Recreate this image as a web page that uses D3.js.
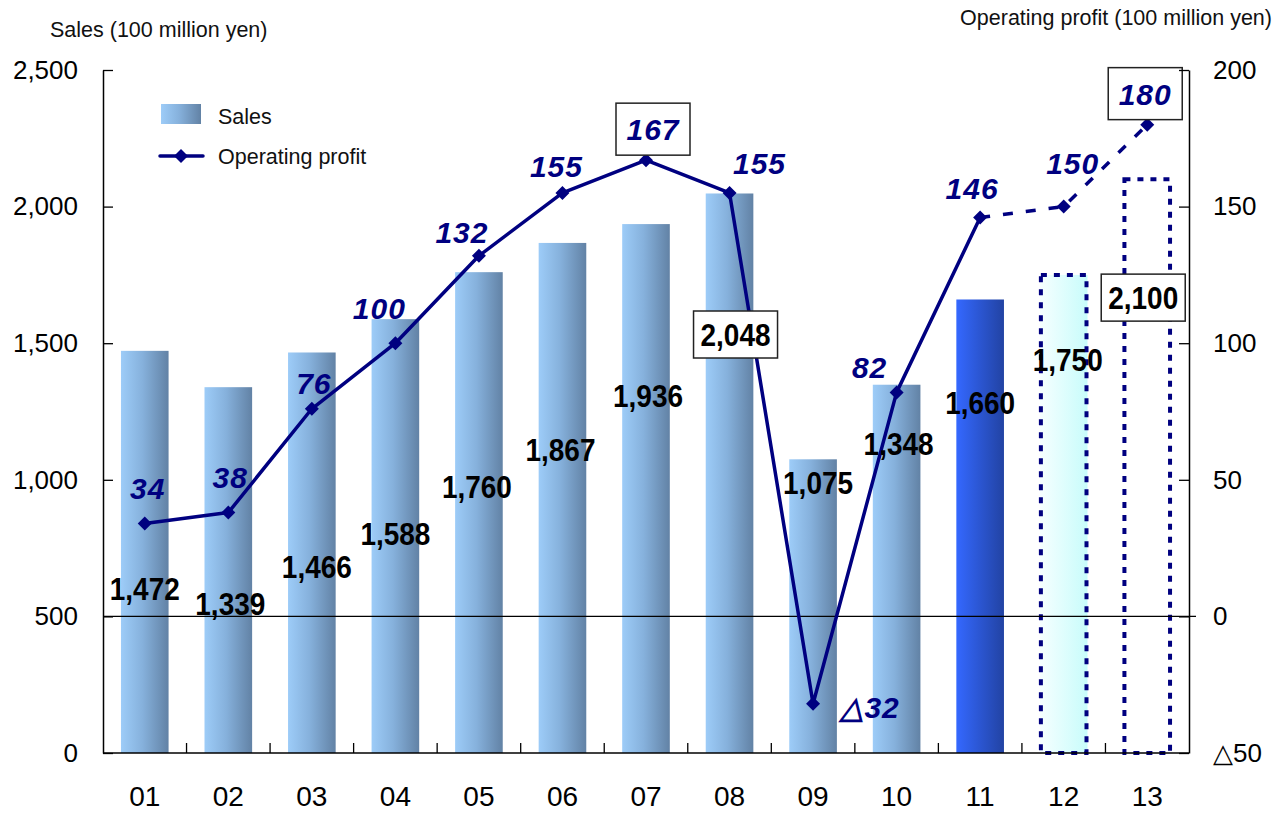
<!DOCTYPE html>
<html>
<head>
<meta charset="utf-8">
<script src="https://cdn.jsdelivr.net/npm/d3@7"></script>
<style>
  html, body { margin: 0; padding: 0; background: #fff; }
  svg { display: block; font-family: "Liberation Sans", Arial, sans-serif; }
</style>
</head>
<body>
<svg id="chart" width="1275" height="813"></svg>
<script>
// ---- data ----
const years = ["01","02","03","04","05","06","07","08","09","10","11","12","13"];
const sales = [1472, 1339, 1466, 1588, 1760, 1867, 1936, 2048, 1075, 1348, 1660, 1750, 2100];
const profit = [34, 38, 76, 100, 132, 155, 167, 155, -32, 82, 146, 150, 180];
const barKind = ["actual","actual","actual","actual","actual","actual","actual","actual","actual","actual","current","forecast","target"];
const salesTicks = [0, 500, 1000, 1500, 2000, 2500];
const profitTicks = [-50, 0, 50, 100, 150, 200];
const solidUntil = 10;            // index of last actual profit point
const boxedSales = [7, 12];       // sales labels drawn inside a frame
const boxedProfit = [6, 12];      // profit labels drawn inside a frame

// label placement (sales label centre in axis units, profit label offsets in px)
const salesLabelLevel = [600, 545, 680, 800, 975, 1110, 1305, 1530, 988, 1131, 1281, 1438, 1665];
const salesLabelDx = [0, 2, 5, 0, -2, -2, 2, 6, 5, 2, 0, 4, -4];
const profitLabelDx = [3, 2, 2, -16, -17, -6, 7, 30, 57, -27, -8, 9, -2];
const profitLabelDy = [-36, -36, -26, -35, -24, -27, -31, -30, 3, -25, -30, -44, -31];

const fmt = d3.format(",");
const fmtProfit = v => v < 0 ? "\u25B3" + Math.abs(v) : String(v);

const svg = d3.select("#chart");
const plotL = 103, plotR = 1189, plotT = 70, plotB = 753;
const navy = "#000080";

const x = d3.scaleBand().domain(years).range([plotL, plotR]).paddingInner(0.43).paddingOuter(0.215);
const ySales = d3.scaleLinear().domain([0, 2500]).range([plotB, plotT]);
const yProfit = d3.scaleLinear().domain([-50, 200]).range([plotB, plotT]);

// ---- gradients ----
const defs = svg.append("defs");
function grad(id, stops) {
  const g = defs.append("linearGradient").attr("id", id)
    .attr("x1", "0%").attr("x2", "100%").attr("y1", "0%").attr("y2", "0%");
  stops.forEach(([o, c]) => g.append("stop").attr("offset", o).attr("stop-color", c));
}
grad("gActual", [["0%", "#9dccf8"], ["45%", "#86b1dc"], ["100%", "#6282a5"]]);
grad("gCurrent", [["0%", "#3468ff"], ["100%", "#2243a3"]]);
grad("gForecast", [["0%", "#f6ffff"], ["100%", "#c8fcfb"]]);

const fillFor = k => k === "actual" ? "url(#gActual)" : k === "current" ? "url(#gCurrent)"
  : k === "forecast" ? "url(#gForecast)" : "#ffffff";

// ---- bars ----
const barData = years.map((y, i) => ({ year: y, value: sales[i], kind: barKind[i], i }));
svg.append("g").selectAll("rect").data(barData).join("rect")
  .attr("x", d => x(d.year))
  .attr("width", x.bandwidth())
  .attr("y", d => ySales(d.value))
  .attr("height", d => ySales(0) - ySales(d.value))
  .attr("fill", d => fillFor(d.kind));

// dotted frames around planned bars
svg.append("g").selectAll("rect").data(barData.filter(d => d.kind === "forecast" || d.kind === "target")).join("rect")
  .attr("x", d => x(d.year) + 1)
  .attr("width", x.bandwidth() - 2)
  .attr("y", d => ySales(d.value))
  .attr("height", d => ySales(0) - ySales(d.value))
  .attr("fill", "none")
  .attr("stroke", navy)
  .attr("stroke-width", 4)
  .attr("stroke-dasharray", "6,7");

// zero line of the profit axis
svg.append("line")
  .attr("x1", plotL).attr("x2", plotR + 7)
  .attr("y1", yProfit(0)).attr("y2", yProfit(0))
  .attr("stroke", "#000").attr("stroke-width", 1.3);

// ---- profit line ----
const pts = years.map((y, i) => ({ x: x(y) + x.bandwidth() / 2, y: yProfit(profit[i]), v: profit[i], i }));
const line = d3.line().x(d => d.x).y(d => d.y);
svg.append("path").datum(pts.slice(0, solidUntil + 1))
  .attr("d", line).attr("fill", "none").attr("stroke", navy).attr("stroke-width", 3.5)
  .attr("stroke-linejoin", "round");
svg.append("path").datum(pts.slice(solidUntil))
  .attr("d", line).attr("fill", "none").attr("stroke", navy).attr("stroke-width", 3.5)
  .attr("stroke-dasharray", "10,13");

const diamond = s => `M0,${-s}L${s},0L0,${s}L${-s},0Z`;
svg.append("g").selectAll("path").data(pts).join("path")
  .attr("transform", d => `translate(${d.x},${d.y})`)
  .attr("d", diamond(7))
  .attr("fill", navy);

// ---- sales labels (tall, condensed bold figures) ----
const sl = svg.append("g");
barData.forEach(d => {
  const cx = x(d.year) + x.bandwidth() / 2 + salesLabelDx[d.i];
  const cy = ySales(salesLabelLevel[d.i]);
  if (boxedSales.includes(d.i)) {
    sl.append("rect").attr("x", cx - 42).attr("y", cy - 24).attr("width", 84).attr("height", 47)
      .attr("fill", "#fff").attr("stroke", "#222").attr("stroke-width", 1.5);
  }
  sl.append("text")
    .attr("x", cx - 35).attr("y", cy + 11)
    .attr("font-size", 31).attr("font-weight", "bold")
    .attr("textLength", 70).attr("lengthAdjust", "spacingAndGlyphs")
    .attr("fill", "#000")
    .text(fmt(d.value));
});

// ---- profit labels ----
const pl = svg.append("g");
pts.forEach(d => {
  const cx = d.x + profitLabelDx[d.i];
  const cy = d.y + profitLabelDy[d.i];
  if (boxedProfit.includes(d.i)) {
    pl.append("rect").attr("x", cx - 37).attr("y", cy - 26).attr("width", 74).attr("height", 52)
      .attr("fill", "#fff").attr("stroke", "#222").attr("stroke-width", 1.5);
  }
  pl.append("text")
    .attr("x", cx).attr("y", cy + 11)
    .attr("text-anchor", "middle")
    .attr("font-size", 30).attr("font-weight", "bold").attr("font-style", "italic")
    .attr("letter-spacing", 1)
    .attr("fill", navy)
    .text(fmtProfit(d.v));
});

// ---- axes ----
const axisStyle = g => {
  g.selectAll("path.domain").attr("stroke", "#000").attr("stroke-width", 1.5);
  g.selectAll(".tick line").attr("stroke", "#000").attr("stroke-width", 1.3);
  g.selectAll("text").attr("fill", "#000").attr("font-size", 26)
    .attr("font-family", "'Liberation Sans', Arial, sans-serif");
};

svg.append("g").attr("transform", `translate(${plotL},0)`)
  .call(d3.axisLeft(ySales).tickValues(salesTicks).tickFormat(fmt).tickSizeInner(-10).tickSizeOuter(0).tickPadding(25))
  .call(axisStyle);

svg.append("g").attr("transform", `translate(${plotR},0)`)
  .call(d3.axisRight(yProfit).tickValues(profitTicks).tickFormat(fmtProfit).tickSizeInner(-10).tickSizeOuter(0).tickPadding(24))
  .call(axisStyle);

// category axis: labels under the bands, ticks between bands
const xAxis = svg.append("g").attr("transform", `translate(0,${plotB})`);
xAxis.call(d3.axisBottom(x).tickSize(0).tickPadding(0)).call(axisStyle);
xAxis.selectAll("text").attr("font-size", 28).attr("y", 53).attr("dy", null);
xAxis.selectAll("path.domain").remove();
xAxis.append("line").attr("x1", plotL).attr("x2", plotR).attr("stroke", "#000").attr("stroke-width", 1.5);
const step = x.step();
xAxis.selectAll("line.sep").data(years.slice(1)).join("line")
  .attr("class", "sep")
  .attr("x1", d => x(d) - step * x.paddingInner() / 2)
  .attr("x2", d => x(d) - step * x.paddingInner() / 2)
  .attr("y1", 0).attr("y2", -10)
  .attr("stroke", "#000").attr("stroke-width", 1.3);

// ---- axis titles ----
svg.append("text").attr("x", 50).attr("y", 37).attr("font-size", 21.5).attr("fill", "#111")
  .text("Sales (100 million yen)");
svg.append("text").attr("x", 1272).attr("y", 25).attr("font-size", 21.5).attr("fill", "#111")
  .attr("text-anchor", "end")
  .text("Operating profit (100 million yen)");

// ---- legend ----
const lg = svg.append("g");
lg.append("rect").attr("x", 161).attr("y", 104).attr("width", 40).attr("height", 20).attr("fill", "url(#gActual)");
lg.append("text").attr("x", 218).attr("y", 124)
  .attr("font-size", 21.5).attr("fill", "#111").text("Sales");
lg.append("line").attr("x1", 160).attr("x2", 203).attr("y1", 156).attr("y2", 156)
  .attr("stroke", navy).attr("stroke-width", 3.5).attr("stroke-linecap", "round");
lg.append("path").attr("transform", "translate(181,156)").attr("d", diamond(7)).attr("fill", navy);
lg.append("text").attr("x", 218).attr("y", 164)
  .attr("font-size", 21.5).attr("fill", "#111").text("Operating profit");
</script>
</body>
</html>
